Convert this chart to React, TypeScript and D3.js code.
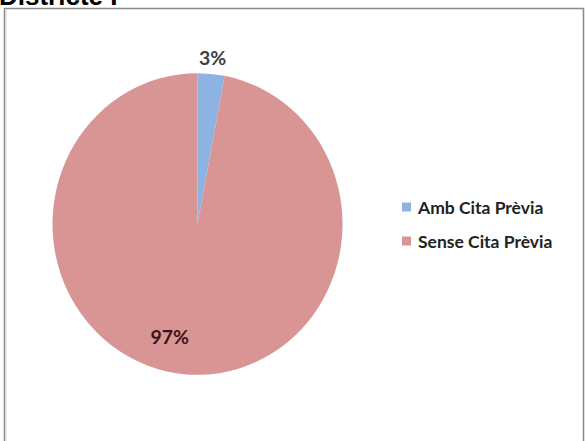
import React from "react";
import * as d3 from "d3";

const categories = ["Amb Cita Prèvia", "Sense Cita Prèvia"];
const values = [3, 97];
const labels = ["3%", "97%"];
const colors = ["#8db3e2", "#d99594"];
const title = "Districte I";

const W = 585;
const H = 441;

export default function App() {
  const cx = 197.5;
  const cy = 224;
  const r = 145;
  const sy = 1.04;

  const pie = d3
    .pie<number>()
    .sort(null)
    .value((d) => d)
    .startAngle(0)
    .endAngle(2 * Math.PI);
  const arcs = pie(values);
  const arc = d3.arc<d3.PieArcDatum<number>>().innerRadius(0).outerRadius(r);

  const labelPos = (a: d3.PieArcDatum<number>, i: number) => {
    const mid = (a.startAngle + a.endAngle) / 2;
    if (i === 0) {
      const rr = r + 16;
      return [Math.sin(mid) * rr, -Math.cos(mid) * rr * sy];
    }
    const ang = mid + (9 * Math.PI) / 180;
    const rr = r * 0.77;
    return [Math.sin(ang) * rr, -Math.cos(ang) * rr * sy];
  };

  const legendScale = d3.scaleBand<string>().domain(categories).range([190, 258]);

  return (
    <svg
      width={W}
      height={H}
      style={{ position: "absolute", left: 0, top: 0, background: "#fff" }}
    >
      <rect x={0} y={0} width={W} height={H} fill="#fff" />
      <text
        x={-1}
        y={5}
        fontFamily="Liberation Sans, Arial, sans-serif"
        fontWeight="bold"
        fontSize={26}
        fill="#000"
      >
        {title}
      </text>
      <path
        d={`M4.5,${H + 2} L4.5,8.5 L583.5,8.5 L583.5,${H + 2}`}
        fill="none"
        stroke="#8a8a8a"
        strokeWidth={1.5}
      />
      <line x1={6} x2={6} y1={9} y2={H} stroke="#d8d8d8" strokeWidth={1} />
      <g transform={`translate(${cx},${cy}) scale(1,${sy})`}>
        {arcs.map((a, i) => (
          <path key={i} d={arc(a) || ""} fill={colors[i]} />
        ))}
      </g>
      <g transform={`translate(${cx},${cy})`}>
        {arcs.map((a, i) => {
          const [x, y] = labelPos(a, i);
          return (
            <text
              key={i}
              x={x}
              y={y}
              textAnchor="middle"
              dominantBaseline="central"
              fontFamily="Lato, sans-serif"
              fontWeight="bold"
              fontSize={19.5}
              fill={i === 0 ? "#404040" : "#3b1515"}
            >
              {labels[i]}
            </text>
          );
        })}
      </g>
      <g>
        {categories.map((c, i) => {
          const y = (legendScale(c) || 0) + legendScale.bandwidth() / 2;
          return (
            <g key={c} transform={`translate(402,${y})`}>
              <rect x={0} y={-4.5} width={9} height={9} fill={colors[i]} />
              <text
                x={16}
                y={0}
                dominantBaseline="central"
                fontFamily="Lato, sans-serif"
                fontWeight="bold"
                fontSize={17.5}
                fill="#222"
              >
                {c}
              </text>
            </g>
          );
        })}
      </g>
    </svg>
  );
}
